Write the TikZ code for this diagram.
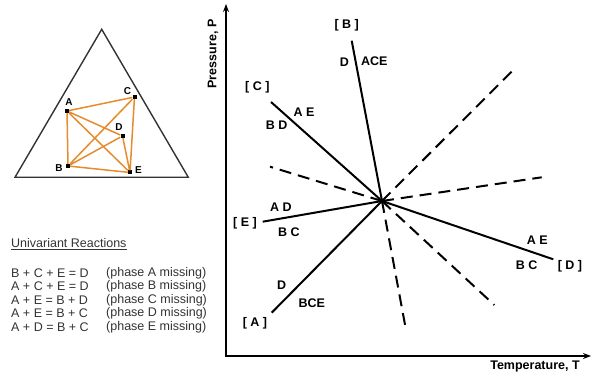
\documentclass[tikz,border=0pt]{standalone}
\usepackage{fontspec}
\setmainfont{Liberation Sans}
\usetikzlibrary{arrows.meta}
\definecolor{tieorange}{RGB}{230,140,45}

\begin{document}
\begin{tikzpicture}[x=1pt,y=-1pt,>=Stealth,
  every node/.style={font=\fontsize{12.5}{14}\selectfont\bfseries,inner sep=0pt},
  rxn/.style={line width=2pt},
  meta/.style={line width=2pt,dash pattern=on 12pt off 7pt},
  tie/.style={draw=tieorange,line width=1.5pt},
  phase/.style={fill=black,minimum size=4pt},
  plabel/.style={font=\fontsize{10}{12}\selectfont\bfseries},
  legend/.style={anchor=west,font=\fontsize{12.5}{13.5}\selectfont,text=black!80}]
\useasboundingbox (0,0) rectangle (592,374);

% composition triangle
\draw[line width=1.4pt,black!80] (101.7,29.3) -- (188.3,177.3) -- (15,177.3) -- cycle;
\node[phase] (A) at (67,111) {};
\node[phase] (B) at (68,166) {};
\node[phase] (C) at (134.5,97) {};
\node[phase] (D) at (122.5,136) {};
\node[phase] (E) at (130,172.5) {};
\draw[tie] (A) -- (C) (A) -- (B) (A) -- (D) (A) -- (E) (B) -- (C)
  (B) -- (D) (B) -- (E) (C) -- (E) (D) -- (E);
\node[plabel] (lA) at (69,102.5) {A};
\node[plabel] (lB) at (59,168.5) {B};
\node[plabel] (lC) at (127.5,91.5) {C};
\node[plabel] (lD) at (119,127.5) {D};
\node[plabel] (lE) at (138.5,170.5) {E};

% univariant reactions
\node[legend] (title) at (11,244) {\underline{Univariant Reactions}};
\foreach \r/\p [count=\i] in {B + C + E = D/A,A + C + E = D/B,A + E = B + D/C,A + E = B + C/D,A + D = B + C/E} {
  \node[legend] (r\i) at (11,259.5+13.5*\i) {\r};
  \node[legend] (m\i) at (106,259.5+13.5*\i) {(phase \p{} missing)};
}

% P-T axes
\draw[line width=1.6pt,<->,>={Stealth[length=8pt,width=6pt]}] (226,4) |- (591,356);
\node[rotate=90] (P) at (213,54) {Pressure, P};
\node (T) at (535,366.5) {Temperature, T};

% invariant point and reaction lines
\coordinate (ip) at (382,201);
\coordinate (eA) at (271.7,312.7);
\coordinate (eB) at (351.7,40.7);
\coordinate (eC) at (271,102);
\coordinate (eD) at (553.3,259.3);
\coordinate (eE) at (262.7,221.7);
\coordinate (mA) at (513.3,70);
\coordinate (mB) at (406,330);
\coordinate (mC) at (494.3,305);
\coordinate (mD) at (270,166.7);
\coordinate (mE) at (541.7,177.3);
\foreach \x in {A,B,C,D,E} {
  \draw[meta] (ip) -- (m\x);
  \draw[rxn] (ip) -- (e\x);
}

\node (nB) at (346.7,25) {[ B ]};
\node (bB1) at (344.3,62.7) {D};
\node (bB2) at (374.3,61) {ACE};
\node (nC) at (257.3,87.3) {[ C ]};
\node (bC1) at (304,112.3) {A E};
\node (bC2) at (276.7,125.3) {B D};
\node (nE) at (245,223.3) {[ E ]};
\node (bE1) at (281,207.7) {A D};
\node (bE2) at (289,232) {B C};
\node (nA) at (255,323.3) {[ A ]};
\node (bA1) at (281.7,285) {D};
\node (bA2) at (311.7,302.7) {BCE};
\node (nD) at (570,266) {[ D ]};
\node (bD1) at (537.3,240.7) {A E};
\node (bD2) at (526.7,265) {B C};
\end{tikzpicture}
\end{document}
